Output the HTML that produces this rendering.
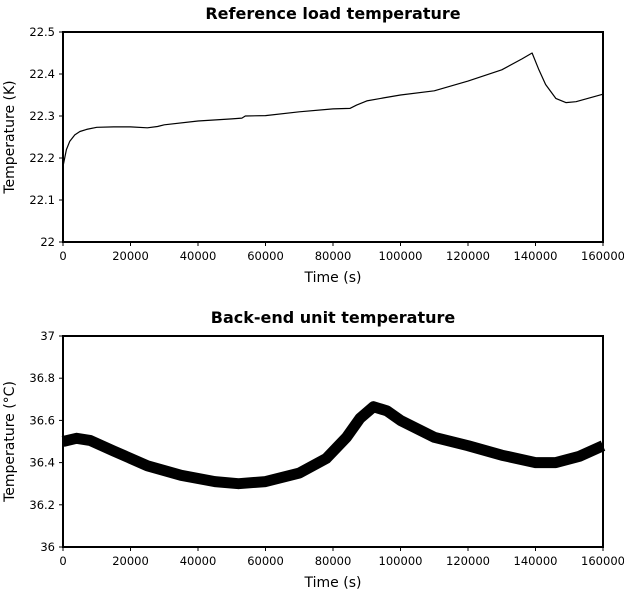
<!DOCTYPE html>
<html><head><meta charset="utf-8"><style>
body{margin:0;background:#fff;}
svg{display:block;font-family:"DejaVu Sans","Liberation Sans",sans-serif;}
</style></head><body>
<svg id="c" width="624" height="591" viewBox="0 0 624 591"></svg>
<script>
const xTicks=[0,20000,40000,60000,80000,100000,120000,140000,160000];
const topYTicks=[22,22.1,22.2,22.3,22.4,22.5];
const topYLabels=["22","22.1","22.2","22.3","22.4","22.5"];
const botYTicks=[36,36.2,36.4,36.6,36.8,37];
const botYLabels=["36","36.2","36.4","36.6","36.8","37"];
const topT=[0,1000,2000,3500,5000,7000,10000,15000,20000,25000,28000,30000,40000,50000,53000,54000,60000,70000,80000,85000,87000,90000,95000,100000,110000,120000,130000,136000,139000,141000,143000,146000,149000,152000,156000,160000];
const topV=[22.18,22.22,22.24,22.255,22.263,22.268,22.273,22.274,22.274,22.272,22.275,22.279,22.288,22.293,22.295,22.30,22.301,22.31,22.317,22.318,22.326,22.336,22.343,22.35,22.36,22.383,22.41,22.436,22.45,22.41,22.375,22.342,22.332,22.334,22.343,22.352];
const botT=[0,4000,8000,15000,25000,35000,45000,52000,60000,70000,78000,84000,88000,92000,96000,100000,110000,120000,130000,140000,146000,153000,160000];
const botV=[36.5,36.515,36.505,36.455,36.385,36.34,36.31,36.3,36.31,36.35,36.42,36.52,36.61,36.665,36.645,36.6,36.52,36.48,36.435,36.4,36.4,36.43,36.48];
const svg=document.getElementById('c');
const NS='http://www.w3.org/2000/svg';
function mk(tag,attrs,parent){const e=document.createElementNS(NS,tag);for(const k in attrs)e.setAttribute(k,attrs[k]);(parent||svg).appendChild(e);return e;}
function panel(cfg){
 const x0=63,x1=603,y0=cfg.top,y1=cfg.bot;
 const xs=v=>x0+(v-0)/160000*(x1-x0);
 const ys=v=>y1-(v-cfg.ymin)/(cfg.ymax-cfg.ymin)*(y1-y0);
 const g=mk('g',{});
 
 
 const t=mk('text',{x:333,y:y0-13,'text-anchor':'middle','font-size':'16','font-weight':'bold'},g);
 t.textContent=cfg.title;
 
 
 const pts=cfg.T.map((v,i)=>xs(v).toFixed(1)+','+ys(cfg.V[i]).toFixed(1)).join(' ');
 const line=mk('polyline',{points:pts,fill:'none',stroke:'#000','stroke-width':cfg.sw,'stroke-linejoin':'round'},g);
 
 
 const fr=mk('rect',{x:x0,y:y0,width:x1-x0,height:y1-y0,fill:'none',stroke:'#000','stroke-width':2},g);
 
 
 xTicks.forEach(v=>{
  mk('line',{x1:xs(v),x2:xs(v),y1:y1,y2:y1+4,stroke:'#000','stroke-width':1},g);
  const l=mk('text',{x:xs(v),y:y1+18,'text-anchor':'middle','font-size':'11.5'},g);
  l.textContent=String(v);
  
  
 });
 cfg.yt.forEach((v,i)=>{
  mk('line',{x1:x0-4,x2:x0,y1:ys(v),y2:ys(v),stroke:'#000','stroke-width':1},g);
  const l=mk('text',{x:x0-8,y:ys(v)+4,'text-anchor':'end','font-size':'11.5'},g);
  l.textContent=cfg.yl[i];
  
  
 });
 const xl=mk('text',{x:333,y:y1+40,'text-anchor':'middle','font-size':'14'},g);
 xl.textContent='Time (s)';
 
 
 const cy=(y0+y1)/2;
 const yl=mk('text',{x:14,y:cy,'text-anchor':'middle','font-size':'14',transform:'rotate(-90 14 '+cy+')'},g);
 yl.textContent=cfg.ylabel;
 
 
}
panel({name:'reference-load-panel',title:'Reference load temperature',top:32,bot:242,ymin:22,ymax:22.5,T:topT,V:topV,sw:1.2,yt:topYTicks,yl:topYLabels,ylabel:'Temperature (K)'});
panel({name:'back-end-panel',title:'Back-end unit temperature',top:336,bot:547,ymin:36,ymax:37,T:botT,V:botV,sw:11,yt:botYTicks,yl:botYLabels,ylabel:'Temperature (°C)'});
</script>
</body></html>
